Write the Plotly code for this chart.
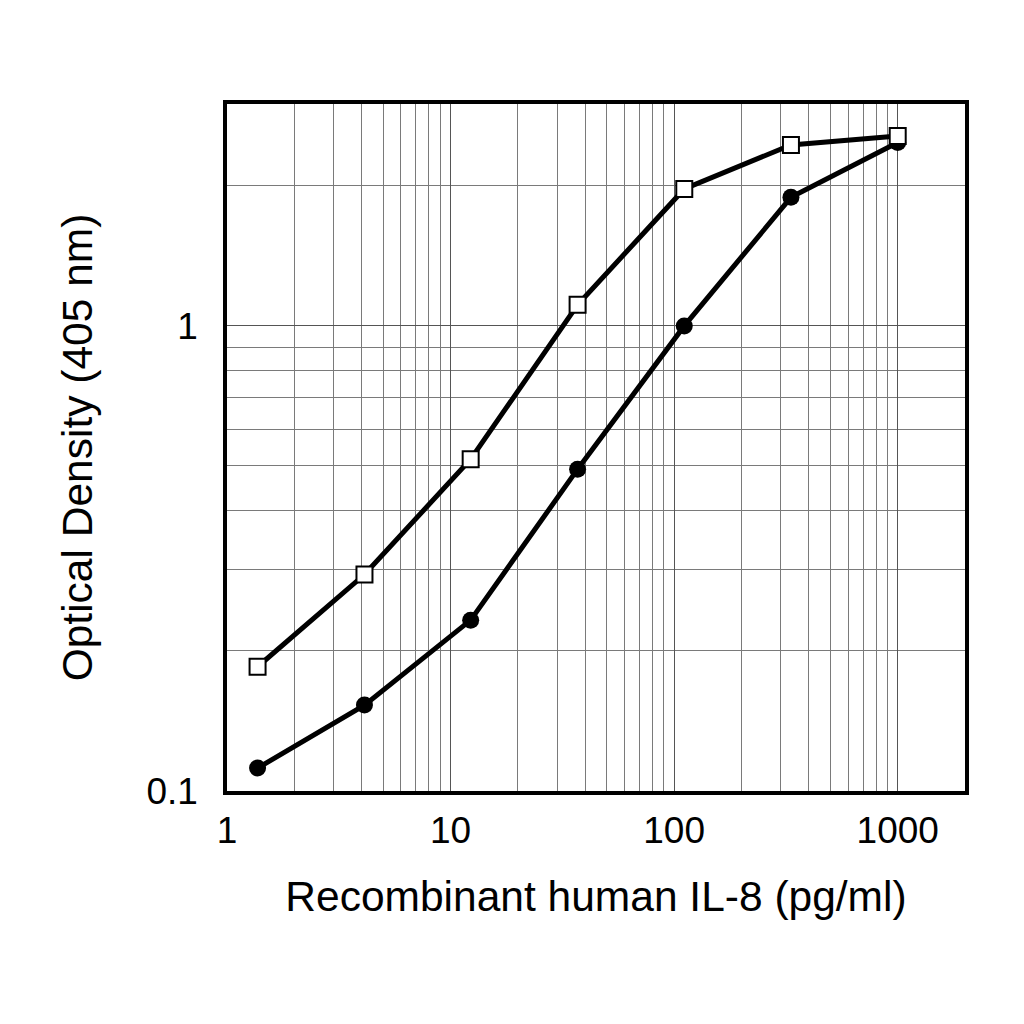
import plotly.graph_objects as go

conc = [1.37, 4.12, 12.3, 37, 111, 333, 1000]
od_open = [0.185, 0.292, 0.517, 1.11, 1.97, 2.45, 2.56]
od_filled = [0.112, 0.153, 0.233, 0.492, 1.0, 1.89, 2.48]

x_ticks = [1, 10, 100, 1000]
y_ticks = [0.1, 1]

fig = go.Figure()
fig.add_trace(go.Scatter(
    x=conc, y=od_filled, mode="lines+markers",
    line=dict(color="black", width=5),
    marker=dict(symbol="circle", size=17, color="black"),
    showlegend=False,
))
fig.add_trace(go.Scatter(
    x=conc, y=od_open, mode="lines+markers",
    line=dict(color="black", width=5),
    marker=dict(symbol="square", size=16, color="white",
                line=dict(color="black", width=2)),
    showlegend=False,
))

font = "Liberation Sans, Arial, sans-serif"
# the page body adds an 8 px margin, so the figure is 1008 px square
fig.update_layout(
    width=1008, height=1008,
    margin=dict(l=219, r=51, t=96, b=225),
    paper_bgcolor="white", plot_bgcolor="white",
    font=dict(family=font, color="black"),
    xaxis=dict(
        type="log", range=[0, 3.301],
        tickvals=x_ticks, ticktext=[str(v) for v in x_ticks],
        tickfont=dict(size=37),
        showgrid=True, gridcolor="#555555", gridwidth=1.2,
        minor=dict(showgrid=True, gridcolor="#7a7a7a", gridwidth=1.2,
                   dtick="D1"),
        showline=True, linecolor="black", linewidth=3.5, mirror=True,
        ticks="", ticklabelstandoff=4,
        title=dict(text="Recombinant human IL-8 (pg/ml)",
                   font=dict(size=42.5), standoff=32),
        zeroline=False,
    ),
    yaxis=dict(
        type="log", range=[-1, 0.4771],
        tickvals=y_ticks, ticktext=["0.1", "1"],
        tickfont=dict(size=37),
        showgrid=True, gridcolor="#555555", gridwidth=1.2,
        minor=dict(showgrid=True, gridcolor="#7a7a7a", gridwidth=1.2,
                   dtick="D1"),
        showline=True, linecolor="black", linewidth=3.5, mirror=True,
        ticks="", ticklabelstandoff=18,
        title=dict(text="Optical Density (405 nm)",
                   font=dict(size=42.5), standoff=42),
        zeroline=False,
    ),
)

fig.write_html("out.html")
